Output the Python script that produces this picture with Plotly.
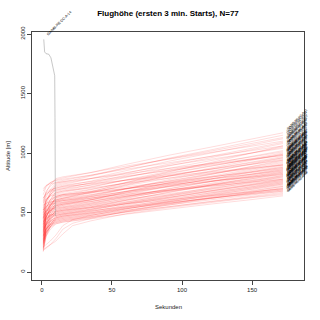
import plotly.graph_objects as go

T = [1, 3, 6, 10, 15, 22, 35, 60, 90, 120, 150, 172]

RED = [
    [650,713,751,775,790,805,836,904,980,1048,1117,1170],
    [600,677,722,755,770,785,813,878,950,1015,1080,1130],
    [560,668,733,785,800,812,836,890,950,1004,1058,1100],
    [520,628,693,745,760,772,807,877,955,1025,1095,1150],
    [680,725,752,768,780,790,814,864,920,970,1021,1060],
    [480,597,667,725,740,752,786,854,930,998,1067,1120],
    [590,648,684,705,720,735,764,831,905,972,1038,1090],
    [450,585,666,735,750,760,785,837,895,947,999,1040],
    [620,656,678,688,700,714,746,814,890,958,1027,1080],
    [500,594,651,695,710,722,746,800,860,914,968,1010],
    [400,530,609,675,690,702,733,798,870,935,1000,1050],
    [540,603,641,665,680,693,717,773,835,891,947,990],
    [430,565,646,715,730,740,760,805,855,900,945,980],
    [350,494,580,655,670,683,712,775,845,908,971,1020],
    [580,616,638,648,660,672,696,750,810,864,918,960],
    [460,545,597,635,650,662,692,755,825,888,951,1000],
    [300,453,545,625,640,651,680,739,805,864,924,970],
    [520,601,650,685,700,710,729,772,820,863,906,940],
    [380,492,560,615,630,642,668,726,790,848,905,950],
    [440,521,570,605,620,634,664,731,805,872,938,990],
    [330,456,532,595,610,621,647,703,765,821,877,920],
    [560,578,589,592,600,612,640,699,765,824,884,930],
    [410,531,604,665,680,688,706,746,790,830,869,900],
    [270,414,500,575,590,602,634,701,775,842,908,960],
    [490,548,584,605,620,630,651,698,750,797,844,880],
    [360,459,518,565,580,592,620,679,745,804,864,910],
    [310,463,555,635,650,658,676,716,760,800,839,870],
    [470,515,542,558,570,582,610,669,735,794,854,900],
    [250,407,502,585,600,609,631,678,730,777,824,860],
    [420,483,521,545,560,574,606,674,750,818,887,940],
    [380,497,567,625,640,648,665,703,745,783,821,850],
    [300,412,480,535,550,562,591,652,720,781,842,890],
    [520,551,570,578,590,598,620,665,715,760,805,840],
    [230,383,475,555,570,581,607,663,725,781,837,880],
    [450,490,515,528,540,552,578,636,700,758,815,860],
    [340,461,534,595,610,618,636,676,720,760,799,830],
    [280,392,460,515,530,542,571,632,700,761,822,870],
    [400,472,515,545,560,570,591,638,690,737,784,820],
    [200,344,430,505,520,532,560,619,685,744,804,850],
    [370,464,521,565,580,588,606,646,690,730,769,800],
    [480,511,530,538,550,559,581,628,680,727,774,810],
    [260,372,440,495,510,522,548,606,670,728,785,830],
    [320,432,500,555,570,578,596,636,680,720,759,790],
    [430,461,480,488,500,512,541,602,670,731,792,840],
    [210,358,448,525,540,549,569,612,660,703,746,780],
    [350,413,451,475,490,502,528,586,650,708,765,810],
    [290,398,463,515,530,539,559,602,650,693,736,770],
    [460,487,503,508,520,529,549,592,640,683,726,760],
    [190,320,399,465,480,492,518,576,640,698,755,800],
    [390,444,476,495,510,519,539,582,630,673,716,750],
    [240,343,405,455,470,482,507,563,625,681,737,780],
    [330,406,452,485,500,509,529,572,620,663,706,740],
    [420,451,470,478,490,501,524,574,630,680,731,770],
    [180,306,382,445,460,471,496,550,610,664,718,760],
    [270,364,421,465,480,490,510,555,605,650,695,730],
    [360,400,425,438,450,462,486,540,600,654,708,750],
    [220,332,400,455,470,480,500,545,595,640,685,720],
    [300,363,401,425,440,452,476,530,590,644,698,740],
    [170,300,379,445,460,469,489,532,580,623,666,700],
    [250,331,380,415,430,442,465,517,575,627,679,720],
    [340,398,434,455,470,479,496,536,580,620,659,690],
    [200,299,358,405,420,432,455,507,565,617,669,710],
    [280,356,402,435,450,459,478,519,565,606,648,680],
    [180,200,230,280,360,410,450,510,570,620,660,690],
    [230,324,381,425,440,449,466,506,550,590,629,660],
    [310,364,396,415,430,440,459,502,550,593,636,670],
    [190,205,225,260,320,390,430,490,540,585,625,650],
    [260,332,375,405,420,429,446,486,530,570,609,640],
    [210,230,260,310,390,440,475,530,590,635,675,700],
    [370,437,478,505,520,527,542,574,610,642,675,700],
    [240,352,420,475,490,498,513,547,585,619,653,680],
    [450,517,558,585,600,607,622,654,690,722,755,780],
    [500,567,608,635,650,657,670,701,735,766,796,820],
    [620,665,692,705,720,727,742,774,810,842,875,900],
    [700,727,743,750,760,769,786,826,870,910,949,980],
    [400,499,558,605,620,638,673,752,840,919,998,1060],
]

RED_LABELS = (
    "GA/MB-RE-DC-A-01 GA/MB-RE-DC-A-02 GA/MB-RE-DC-A-03 GA/MB-RE-DC-A-04 "
    "GA/MB-RE-DC-A-05 GA/MB-RE-DC-A-06 GA/MB-RE-DC-A-07 GA/MB-RE-DC-A-08 "
    "GA/MB-RE-DC-A-09 GA/MB-RE-DC-A-10 GA/MB-RE-DC-A-11 GA/MB-RE-DC-A-12 "
    "GA/MB-RE-DC-A-13 GA/MB-RE-DC-A-15 GA/MB-RE-DC-A-16 GA/MB-RE-DC-A-17 "
    "GA/MB-RE-DC-A-18 GA/MB-RE-DC-A-19 GA/MB-RE-DC-A-20 GA/MB-RE-DC-A-21 "
    "GA/MB-RE-DC-A-22 GA/MB-RE-DC-A-23 GA/MB-RE-DC-A-24 GA/MB-RE-DC-A-25 "
    "GA/MB-RE-DC-A-26 GA/MB-RE-DC-A-27 GA/MB-RE-DC-A-28 GA/MB-RE-DC-A-29 "
    "GA/MB-RE-DC-A-30 GA/MB-RE-DC-A-31 GA/MB-RE-DC-A-32 GA/MB-RE-DC-A-33 "
    "GA/MB-RE-DC-A-34 GA/MB-RE-DC-A-35 GA/MB-RE-DC-A-36 GA/MB-RE-DC-A-37 "
    "GA/MB-RE-DC-A-38 GA/MB-RE-DC-A-39 GA/MB-RE-DC-A-40 GA/MB-RE-DC-A-41 "
    "GA/MB-RE-DC-A-42 GA/MB-RE-DC-A-43 GA/MB-RE-DC-A-44 GA/MB-RE-DC-A-45 "
    "GA/MB-RE-DC-A-46 GA/MB-RE-DC-A-47 GA/MB-RE-DC-A-48 GA/MB-RE-DC-A-49 "
    "GA/MB-RE-DC-A-50 GA/MB-RE-DC-A-51 GA/MB-RE-DC-A-52 GA/MB-RE-DC-A-53 "
    "GA/MB-RE-DC-A-54 GA/MB-RE-DC-A-55 GA/MB-RE-DC-A-56 GA/MB-RE-DC-A-57 "
    "GA/MB-RE-DC-A-58 GA/MB-RE-DC-A-59 GA/MB-RE-DC-A-60 GA/MB-RE-DC-A-61 "
    "GA/MB-RE-DC-A-62 GA/MB-RE-DC-A-63 GA/MB-RE-DC-A-64 GA/MB-RE-DC-A-65 "
    "GA/MB-RE-DC-A-66 GA/MB-RE-DC-A-67 GA/MB-RE-DC-A-68 GA/MB-RE-DC-A-69 "
    "GA/MB-RE-DC-A-70 GA/MB-RE-DC-A-71 GA/MB-RE-DC-A-72 GA/MB-RE-DC-A-73 "
    "GA/MB-RE-DC-A-74 GA/MB-RE-DC-A-75 GA/MB-RE-DC-A-76 GA/MB-RE-DC-A-77"
).split()

GRAY_T = [1.4, 1.6, 2.0, 3.0, 5.0, 6.5, 7.5, 8.5, 9.2, 9.4, 9.6, 9.7]
GRAY_V = [1955, 1900, 1850, 1835, 1830, 1800, 1750, 1710, 1650, 1300, 800, 470]
GRAY_LABEL = "GA/MB-RE-DC-A-14"

TITLE = "Flughöhe (ersten 3 min. Starts), N=77"
X_TITLE = "Sekunden"
Y_TITLE = "Altitude [m]"
X_TICKS = [0, 50, 100, 150]
Y_TICKS = [0, 500, 1000, 1500, 2000]

FONT = "Liberation Sans, Arial, Helvetica, sans-serif"

fig = go.Figure()
for row in RED:
    fig.add_trace(go.Scatter(x=T, y=row, mode="lines",
                             line=dict(color="rgba(255,0,0,0.28)", width=0.5),
                             hoverinfo="skip", showlegend=False))
fig.add_trace(go.Scatter(x=GRAY_T, y=GRAY_V, mode="lines",
                         line=dict(color="rgba(140,140,140,0.8)", width=0.6),
                         hoverinfo="skip", showlegend=False))

annotations = []
for row, lab in zip(RED, RED_LABELS):
    annotations.append(dict(x=T[-1], y=row[-1], text=lab, textangle=-45,
                            showarrow=False, xanchor="left", yanchor="bottom",
                            font=dict(size=3.0, color="black", family=FONT)))
annotations.append(dict(x=GRAY_T[0], y=GRAY_V[0], text=GRAY_LABEL, textangle=-45,
                        showarrow=False, xanchor="left", yanchor="bottom",
                        font=dict(size=3.6, color="black", family=FONT)))
annotations.append(dict(x=(168 - 32) / 272, y=-(307 - 280) / 248, xref="paper", yref="paper",
                        text=X_TITLE, showarrow=False, xanchor="center", yanchor="middle",
                        font=dict(size=6, color="#222", family=FONT)))
annotations.append(dict(x=-(32 - 8) / 272, y=(280 - 156) / 248, xref="paper", yref="paper",
                        text=Y_TITLE, textangle=-90, showarrow=False,
                        xanchor="center", yanchor="middle",
                        font=dict(size=6, color="#222", family=FONT)))

fig.update_layout(
    width=320, height=320,
    margin=dict(l=32, r=16, t=32, b=40, autoexpand=False),
    paper_bgcolor="white", plot_bgcolor="white",
    font=dict(family=FONT, size=6, color="black"),
    title=dict(text="<b>" + TITLE + "</b>", x=0.525, xanchor="center",
               y=1 - 13 / 320, yanchor="middle", yref="container",
               font=dict(size=8, family=FONT, color="black")),
    annotations=annotations,
    xaxis=dict(range=[-7, 187], tickvals=X_TICKS, ticks="outside", ticklen=4,
               tickwidth=0.7, tickcolor="#444", showline=True, mirror=True,
               linecolor="#444", linewidth=0.8, showgrid=False, zeroline=False,
               automargin=False, tickfont=dict(size=6, color="#222")),
    yaxis=dict(range=[-67, 2017], tickvals=Y_TICKS, ticks="outside", ticklen=4,
               tickwidth=0.7, tickcolor="#444", showline=True, mirror=True,
               linecolor="#444", linewidth=0.8, showgrid=False, zeroline=False,
               automargin=False, tickangle=-90, tickfont=dict(size=6, color="#222")),
)

fig.write_html("out.html")
